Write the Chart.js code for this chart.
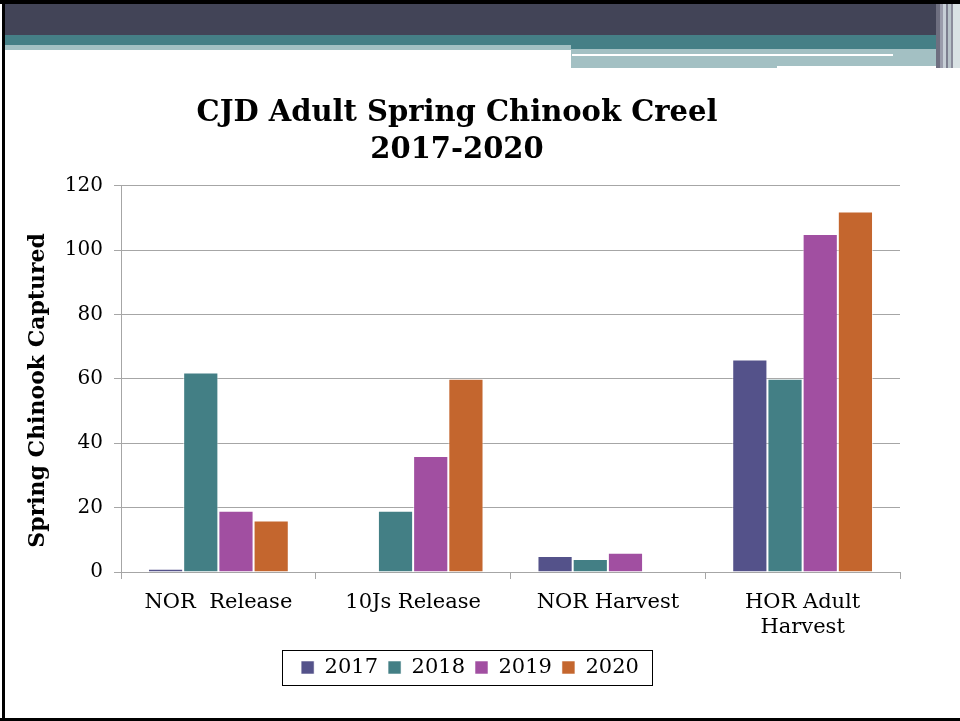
<!DOCTYPE html>
<html>
<head>
<meta charset="utf-8">
<script src="https://cdn.jsdelivr.net/npm/chart.js@4"></script>
<style>
  html, body { margin: 0; padding: 0; background: #fff; }
  #slide { position: relative; width: 960px; height: 721px; overflow: hidden; background: #fff; }
  #slide canvas { position: absolute; left: 0; top: 0; }
  .band { position: absolute; }
</style>
</head>
<body>
<div id="slide">
  <!-- slide frame -->
  <div class="band" style="left:0;top:0;width:960px;height:4px;background:#000"></div>
  <div class="band" style="left:2px;top:0;width:3px;height:721px;background:#000"></div>
  <div class="band" style="left:0;top:718px;width:960px;height:3px;background:#000"></div>
  <!-- header bands -->
  <div class="band" style="left:5px;top:4px;width:955px;height:31px;background:#424457"></div>
  <div class="band" style="left:5px;top:35px;width:955px;height:10px;background:#457f86"></div>
  <div class="band" style="left:5px;top:45px;width:566px;height:5px;background:#a3c0c3"></div>
  <div class="band" style="left:571px;top:45px;width:365px;height:4px;background:#457f86"></div>
  <div class="band" style="left:571px;top:49px;width:365px;height:19px;background:#a3c0c3"></div>
  <div class="band" style="left:572px;top:54px;width:321px;height:2px;background:#fff"></div>
  <div class="band" style="left:777px;top:66px;width:159px;height:2px;background:#fff"></div>
  <div class="band" style="left:936px;top:4px;width:4px;height:64px;background:#6e6f80"></div>
  <div class="band" style="left:940px;top:4px;width:3px;height:64px;background:#9a9cab"></div>
  <div class="band" style="left:943px;top:4px;width:3px;height:64px;background:#c7cfd6"></div>
  <div class="band" style="left:946px;top:4px;width:2px;height:64px;background:#7d7f8f"></div>
  <div class="band" style="left:948px;top:4px;width:3px;height:64px;background:#b8c3c9"></div>
  <div class="band" style="left:951px;top:4px;width:2px;height:64px;background:#8a8c9b"></div>
  <div class="band" style="left:953px;top:4px;width:7px;height:64px;background:#d9e2e4"></div>
  <canvas id="chart" width="960" height="721"></canvas>
</div>
<script>
// Creel categories and catch per year
const categories = ['NOR  Release', '10Js Release', 'NOR Harvest', ['HOR Adult', 'Harvest']];
const years = ['2017', '2018', '2019', '2020'];
const catch2017 = [1, 0, 5, 66];
const catch2018 = [62, 19, 4, 60];
const catch2019 = [19, 36, 6, 105];
const catch2020 = [16, 60, 0, 112];
const yTicks = [0, 20, 40, 60, 80, 100, 120];

const seriesValues = [catch2017, catch2018, catch2019, catch2020];
const seriesColors = ['#54528a', '#437f85', '#a14fa1', '#c4662e'];

const serif = 'DejaVu Serif';
const gridGray = '#a6a6a6';

// Nudge the legend to the right and draw a frame around its entries
const legendFrame = {
  id: 'legendFrame',
  afterLayout(chart) {
    const lg = chart.legend;
    if (lg) { lg.left += 13; lg.right += 13; }
  },
  afterDraw(chart) {
    const lg = chart.legend;
    if (!lg || !lg.legendHitBoxes || !lg.legendHitBoxes.length) return;
    const boxes = lg.legendHitBoxes;
    const left = Math.min(...boxes.map(b => b.left)) - 19;
    const right = Math.max(...boxes.map(b => b.left + b.width)) + 13;
    const cy = boxes[0].top + boxes[0].height / 2;
    const ctx = chart.ctx;
    ctx.save();
    ctx.strokeStyle = '#000';
    ctx.lineWidth = 1;
    ctx.strokeRect(Math.round(left) + 0.5, Math.round(cy - 18) + 0.5, Math.round(right - left), 35);
    ctx.restore();
  }
};

new Chart(document.getElementById('chart'), {
  type: 'bar',
  data: {
    labels: categories,
    datasets: years.map((y, i) => ({
      label: y,
      data: seriesValues[i],
      backgroundColor: seriesColors[i],
      borderColor: 'rgba(255,255,255,0.55)',
      borderWidth: 1,
      barPercentage: 1.0,
      categoryPercentage: 0.723
    }))
  },
  options: {
    responsive: false,
    animation: false,
    devicePixelRatio: 1,
    layout: { padding: { left: 14, right: 60, top: 95, bottom: 33 } },
    plugins: {
      title: {
        display: true,
        text: ['CJD Adult Spring Chinook Creel', '2017-2020'],
        color: '#000',
        font: { family: serif, weight: 'bold', size: 29, lineHeight: 1.27 },
        padding: { top: 0, bottom: 17 }
      },
      legend: {
        position: 'bottom',
        labels: {
          color: '#000',
          font: { family: serif, size: 21 },
          boxWidth: 13,
          boxHeight: 13,
          padding: 10
        }
      },
      tooltip: { enabled: false }
    },
    scales: {
      x: {
        grid: { drawOnChartArea: false, tickLength: 7, color: gridGray, offset: true },
        border: { color: gridGray },
        ticks: {
          color: '#000',
          font: { family: serif, size: 21, lineHeight: 1.2 },
          padding: 11,
          maxRotation: 0,
          autoSkip: false
        },
        afterFit(scale) { scale.height = 75; }
      },
      y: {
        min: 0,
        max: 120,
        afterBuildTicks(scale) { scale.ticks = yTicks.map(v => ({ value: v })); },
        grid: { color: gridGray, tickLength: 7 },
        border: { color: gridGray },
        ticks: {
          color: '#000',
          font: { family: serif, size: 20 },
          padding: 11
        },
        title: {
          display: true,
          text: 'Spring Chinook Captured   ',
          color: '#000',
          font: { family: serif, weight: 'bold', size: 22, lineHeight: 1.2 },
          padding: { top: 11, bottom: 0 }
        },
        afterFit(scale) { scale.width = 121 - 14; }
      }
    }
  },
  plugins: [legendFrame]
});
</script>
</body>
</html>
